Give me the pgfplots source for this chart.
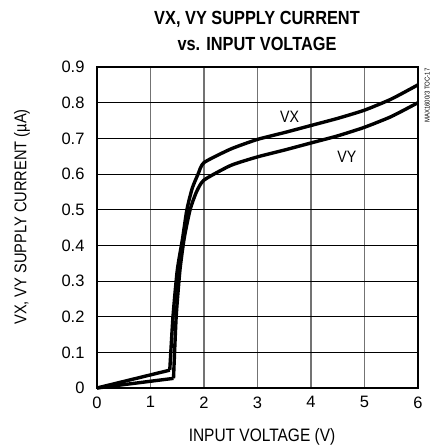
\documentclass[border=0pt]{standalone}
\usepackage{fontspec}
\setmainfont{Liberation Sans}
\newfontfamily\narrow[FakeStretch=0.86]{Liberation Sans}
\usepackage{pgfplots}
\pgfplotsset{compat=1.18}
\newcommand\tkf{\fontsize{16.5bp}{18bp}\selectfont}
\newcommand\lbf{\narrow\fontsize{16.5bp}{18bp}\selectfont}
\begin{document}
\begin{tikzpicture}[x=1bp,y=1bp]
\useasboundingbox (0,0) rectangle (436,448);
\begin{axis}[
    at={(97bp,60bp)}, anchor=south west,
    scale only axis, width=321bp, height=321bp,
    xmin=0, xmax=6, ymin=0, ymax=0.9,
    xtick={0,1,...,6}, ytick={0,0.1,...,0.9},
    xticklabels={0,1,2,3,4,5,6},
    yticklabels={0,0.1,0.2,0.3,0.4,0.5,0.6,0.7,0.8,0.9},
    tick label style={font=\tkf},
    tick style={draw=none},
    xmajorgrids, ymajorgrids,
    x grid style={black!55, line width=1.4pt},
    y grid style={black, line width=0.9pt},
    axis line style={line width=2.2pt},
    xticklabel style={yshift=-5bp},
    yticklabel style={xshift=-9bp},
    clip=false,
]
% VX
\addplot[black, line width=3.4pt, smooth, tension=0.35] coordinates {
    (1.36,0.05) (1.42,0.20) (1.50,0.33) (1.60,0.42) (1.68,0.50) (1.78,0.56)
    (1.89,0.60) (2.0,0.632) (2.5,0.670) (3.0,0.697) (3.5,0.716) (4.0,0.736)
    (4.5,0.756) (5.0,0.779) (5.5,0.81) (6.0,0.85)
};
\addplot[black, line width=3.4pt] coordinates {(0,0) (1.36,0.05)};
% VY
\addplot[black, line width=3.4pt, smooth, tension=0.35] coordinates {
    (1.43,0.027) (1.48,0.20) (1.55,0.33) (1.63,0.42) (1.74,0.50) (1.86,0.55)
    (2.0,0.583) (2.5,0.624) (3.0,0.648) (3.5,0.667) (4.0,0.687) (4.5,0.707)
    (5.0,0.731) (5.5,0.761) (6.0,0.80)
};
\addplot[black, line width=3.4pt] coordinates {(0,0) (1.43,0.027)};
\node[font=\lbf] at (axis cs:3.6,0.76) {VX};
\node[font=\lbf] at (axis cs:4.67,0.648) {VY};
\end{axis}
\node[font=\narrow\fontsize{19bp}{26bp}\selectfont\bfseries, align=center] at (257,417) {VX, VY SUPPLY CURRENT\\vs. INPUT VOLTAGE};
\node[font=\narrow\fontsize{18bp}{20bp}\selectfont] at (262,11) {INPUT VOLTAGE (V)};
\node[font=\narrow\fontsize{17bp}{19bp}\selectfont, rotate=90] at (22,231) {VX, VY SUPPLY CURRENT (µA)};
\node[font=\narrow\fontsize{7bp}{8bp}\selectfont, rotate=90, anchor=east] at (427,383) {MAX1600/3 TOC-17};
\end{tikzpicture}
\end{document}
